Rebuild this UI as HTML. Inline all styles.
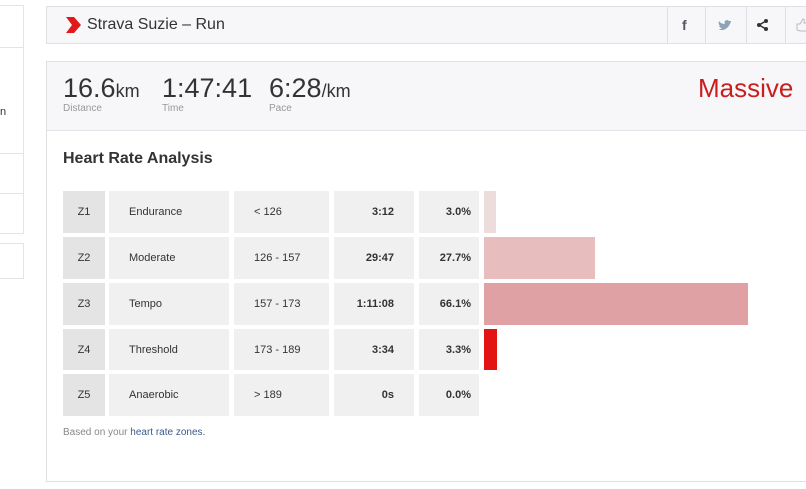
<!DOCTYPE html>
<html><head><style>
body{margin:0;width:806px;height:489px;background:#fff;font-family:"Liberation Sans",sans-serif;position:relative;overflow:hidden;color:#333}
.a{position:absolute}
.c{position:absolute;background:#f0f0f0;font-size:11px;color:#333;line-height:43px}
</style></head><body>
<div class="a" style="left:-2px;top:5px;width:24px;height:41px;border:1px solid #e4e4e4"></div>
<div class="a" style="left:-2px;top:46px;width:24px;height:107px;border:1px solid #e4e4e4;border-top:none"></div>
<div class="a" style="left:0;top:106px;font-size:11px">n</div>
<div class="a" style="left:-2px;top:153px;width:24px;height:40px;border:1px solid #e4e4e4;border-top:none"></div>
<div class="a" style="left:-2px;top:193px;width:24px;height:40px;border:1px solid #e4e4e4;border-top:none"></div>
<div class="a" style="left:-2px;top:243px;width:24px;height:34px;border:1px solid #e4e4e4"></div>

<div class="a" style="left:46px;top:6px;width:770px;height:36px;background:#f7f7f9;border:1px solid #e0e0e4"></div>
<svg class="a" style="left:66px;top:17px" width="15" height="16"><polygon points="0,0 8,0 15,8 8,16 0,16 6,8" fill="#e01a1a"/></svg>
<div class="a" style="left:87px;top:16px;font-size:16px;color:#333">Strava Suzie – Run</div>
<div class="a" style="left:667px;top:7px;width:1px;height:36px;background:#e0e0e4"></div>
<div class="a" style="left:705px;top:7px;width:1px;height:36px;background:#e0e0e4"></div>
<div class="a" style="left:746px;top:7px;width:1px;height:36px;background:#e0e0e4"></div>
<div class="a" style="left:785px;top:7px;width:1px;height:36px;background:#e0e0e4"></div>
<div class="a" style="left:682px;top:17px;font-size:14px;font-weight:bold;color:#556">f</div>
<svg class="a" style="left:717px;top:19px" width="15" height="13"><path d="M1 10 Q6 13 11 8 Q14 4 14 2 L12 2 Q10 0 8 2 Q7 4 8 5 Q4 5 2 2 Q1 5 3 7 L2 7 Q3 9 5 9 Q3 11 1 10Z" fill="#8fa3b8"/></svg>
<svg class="a" style="left:757px;top:19px" width="12" height="12"><circle cx="9" cy="2" r="2" fill="#333"/><circle cx="2" cy="6" r="2" fill="#333"/><circle cx="9" cy="10" r="2" fill="#333"/><path d="M9 2L2 6L9 10" stroke="#333" stroke-width="1.5" fill="none"/></svg>
<svg class="a" style="left:796px;top:18px" width="12" height="14"><path d="M1 6 L4 6 L7 1 Q9 1 8 5 L11 5 L11 13 L4 13 L1 12Z" fill="none" stroke="#bbb"/></svg>

<div class="a" style="left:46px;top:61px;width:770px;height:419px;border:1px solid #e0e0e4;background:#fff"></div>
<div class="a" style="left:47px;top:62px;width:770px;height:68px;background:#f7f7f9;border-bottom:1px solid #e4e4e8"></div>
<div class="a" style="left:63px;top:73px;font-size:27px;color:#333">16.6<span style="font-size:18px">km</span></div>
<div class="a" style="left:63px;top:103px;font-size:10px;color:#999">Distance</div>
<div class="a" style="left:162px;top:73px;font-size:27px;color:#333">1:47:41</div>
<div class="a" style="left:162px;top:103px;font-size:10px;color:#999">Time</div>
<div class="a" style="left:269px;top:73px;font-size:27px;color:#333">6:28<span style="font-size:18px">/km</span></div>
<div class="a" style="left:269px;top:103px;font-size:10px;color:#999">Pace</div>
<div class="a" style="left:698px;top:73px;font-size:26px;color:#c81e1e">Massive</div>

<div class="a" style="left:63px;top:150px;font-size:16px;font-weight:bold;color:#333">Heart Rate Analysis</div>

<div class="c" style="left:63px;top:191px;width:42px;height:42px;background:#e4e4e4;text-align:center">Z1</div>
<div class="c" style="left:109px;top:191px;width:100px;height:42px;padding-left:20px">Endurance</div>
<div class="c" style="left:234px;top:191px;width:75px;height:42px;padding-left:20px">&lt; 126</div>
<div class="c" style="left:334px;top:191px;width:60px;height:42px;padding-right:20px;text-align:right;font-weight:bold">3:12</div>
<div class="c" style="left:419px;top:191px;width:52px;height:42px;padding-right:8px;text-align:right;font-weight:bold">3.0%</div>
<div class="a" style="left:484px;top:191px;width:12px;height:42px;background:#ecdcdc"></div>

<div class="c" style="left:63px;top:237px;width:42px;height:42px;background:#e4e4e4;text-align:center">Z2</div>
<div class="c" style="left:109px;top:237px;width:100px;height:42px;padding-left:20px">Moderate</div>
<div class="c" style="left:234px;top:237px;width:75px;height:42px;padding-left:20px">126 - 157</div>
<div class="c" style="left:334px;top:237px;width:60px;height:42px;padding-right:20px;text-align:right;font-weight:bold">29:47</div>
<div class="c" style="left:419px;top:237px;width:52px;height:42px;padding-right:8px;text-align:right;font-weight:bold">27.7%</div>
<div class="a" style="left:484px;top:237px;width:111px;height:42px;background:#e8bdbd"></div>

<div class="c" style="left:63px;top:283px;width:42px;height:42px;background:#e4e4e4;text-align:center">Z3</div>
<div class="c" style="left:109px;top:283px;width:100px;height:42px;padding-left:20px">Tempo</div>
<div class="c" style="left:234px;top:283px;width:75px;height:42px;padding-left:20px">157 - 173</div>
<div class="c" style="left:334px;top:283px;width:60px;height:42px;padding-right:20px;text-align:right;font-weight:bold">1:11:08</div>
<div class="c" style="left:419px;top:283px;width:52px;height:42px;padding-right:8px;text-align:right;font-weight:bold">66.1%</div>
<div class="a" style="left:484px;top:283px;width:264px;height:42px;background:#dfa1a3"></div>

<div class="c" style="left:63px;top:329px;width:42px;height:41px;background:#e4e4e4;text-align:center">Z4</div>
<div class="c" style="left:109px;top:329px;width:100px;height:41px;padding-left:20px">Threshold</div>
<div class="c" style="left:234px;top:329px;width:75px;height:41px;padding-left:20px">173 - 189</div>
<div class="c" style="left:334px;top:329px;width:60px;height:41px;padding-right:20px;text-align:right;font-weight:bold">3:34</div>
<div class="c" style="left:419px;top:329px;width:52px;height:41px;padding-right:8px;text-align:right;font-weight:bold">3.3%</div>
<div class="a" style="left:484px;top:329px;width:13px;height:41px;background:#e31414"></div>

<div class="c" style="left:63px;top:374px;width:42px;height:42px;background:#e4e4e4;text-align:center">Z5</div>
<div class="c" style="left:109px;top:374px;width:100px;height:42px;padding-left:20px">Anaerobic</div>
<div class="c" style="left:234px;top:374px;width:75px;height:42px;padding-left:20px">&gt; 189</div>
<div class="c" style="left:334px;top:374px;width:60px;height:42px;padding-right:20px;text-align:right;font-weight:bold">0s</div>
<div class="c" style="left:419px;top:374px;width:52px;height:42px;padding-right:8px;text-align:right;font-weight:bold">0.0%</div>

<div class="a" style="left:63px;top:427px;font-size:10px;color:#888">Based on your <span style="color:#3a5a8a">heart rate zones.</span></div>
</body></html>
